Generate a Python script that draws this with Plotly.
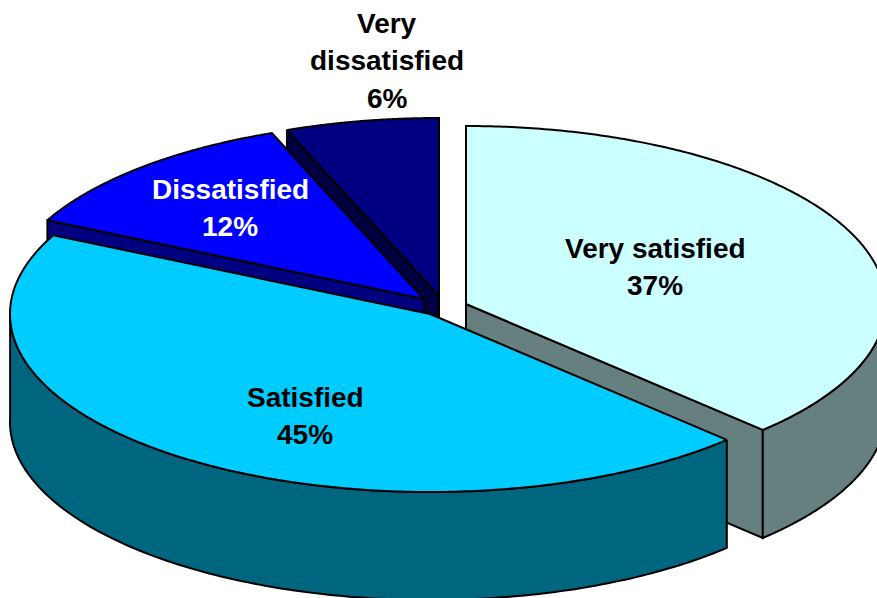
import numpy as np
import plotly.graph_objects as go

categories = ["Very satisfied", "Satisfied", "Dissatisfied", "Very dissatisfied"]
values = [37, 45, 12, 6]
top_colors = ["#CCFFFF", "#00CCFF", "#0000FF", "#000080"]
side_colors = ["#668080", "#006680", "#000080", "#000040"]
label_colors = ["black", "black", "white", "black"]

# Apex of every exploded slice on the picture
apex_x = [466, 430, 424, 439]
apex_y = [304, 314, 299, 296]
label_lines = [["Very satisfied"], ["Satisfied"], ["Dissatisfied"], ["Very", "dissatisfied"]]
label_x = [655, 305, 230, 387]
label_top_y = [248, 397, 189, 23]
line_gap = 37.5

RX, RY, DEPTH = 420, 178, 108
W, H = 877, 598
draw_order = [3, 2, 0, 1]


def warp(t):
    # slight perspective correction of the pie angles
    return t + 2 * np.sin(np.radians(t) / 2)


def px(i, t):
    a = np.radians(warp(np.asarray(t, dtype=float)))
    return apex_x[i] + RX * np.sin(a), apex_y[i] - RY * np.cos(a)


fig = go.Figure()


def poly(xs, ys, color):
    fig.add_trace(go.Scatter(
        x=list(xs) + [xs[0]], y=list(ys) + [ys[0]], mode="lines", fill="toself",
        fillcolor=color, line=dict(color="black", width=2, simplify=False),
        hoverinfo="skip", showlegend=False))


total = sum(values)
edges = np.concatenate([[0], np.cumsum(values)]) / total * 360

for i in draw_order:
    t0, t1 = edges[i], edges[i + 1]
    # radial wall facing the viewer
    for t, visible in ((t0, np.sin(np.radians(t0)) < -1e-6), (t1, np.sin(np.radians(t1)) > 1e-6)):
        if visible:
            x, y = px(i, t)
            poly([apex_x[i], x, x, apex_x[i]],
                 [apex_y[i], y, y + DEPTH, apex_y[i] + DEPTH], side_colors[i])
    # outer rim facing the viewer
    lo, hi = max(t0, 90), min(t1, 270)
    if lo < hi:
        ts = np.linspace(lo, hi, 160)
        x, y = px(i, ts)
        poly(np.r_[x, x[::-1]], np.r_[y, (y + DEPTH)[::-1]], side_colors[i])
    # top face
    ts = np.linspace(t0, t1, 240)
    x, y = px(i, ts)
    poly(np.r_[apex_x[i], x], np.r_[apex_y[i], y], top_colors[i])

for i, lines in enumerate(label_lines):
    rows = lines + [f"{values[i]}%"]
    for k, row in enumerate(rows):
        fig.add_annotation(
            x=label_x[i], y=label_top_y[i] + k * line_gap, text=f"<b>{row}</b>",
            showarrow=False, xanchor="center", yanchor="middle",
            font=dict(family="Liberation Sans", size=28, color=label_colors[i]))

fig.update_layout(
    width=W, height=H, margin=dict(l=0, r=0, t=0, b=0),
    paper_bgcolor="white", plot_bgcolor="white", showlegend=False,
    xaxis=dict(range=[0, W], visible=False, fixedrange=True),
    yaxis=dict(range=[H, 0], visible=False, fixedrange=True),
)
fig.write_html("out.html", config={"displayModeBar": False},
               post_script="document.body.style.margin='0';")
